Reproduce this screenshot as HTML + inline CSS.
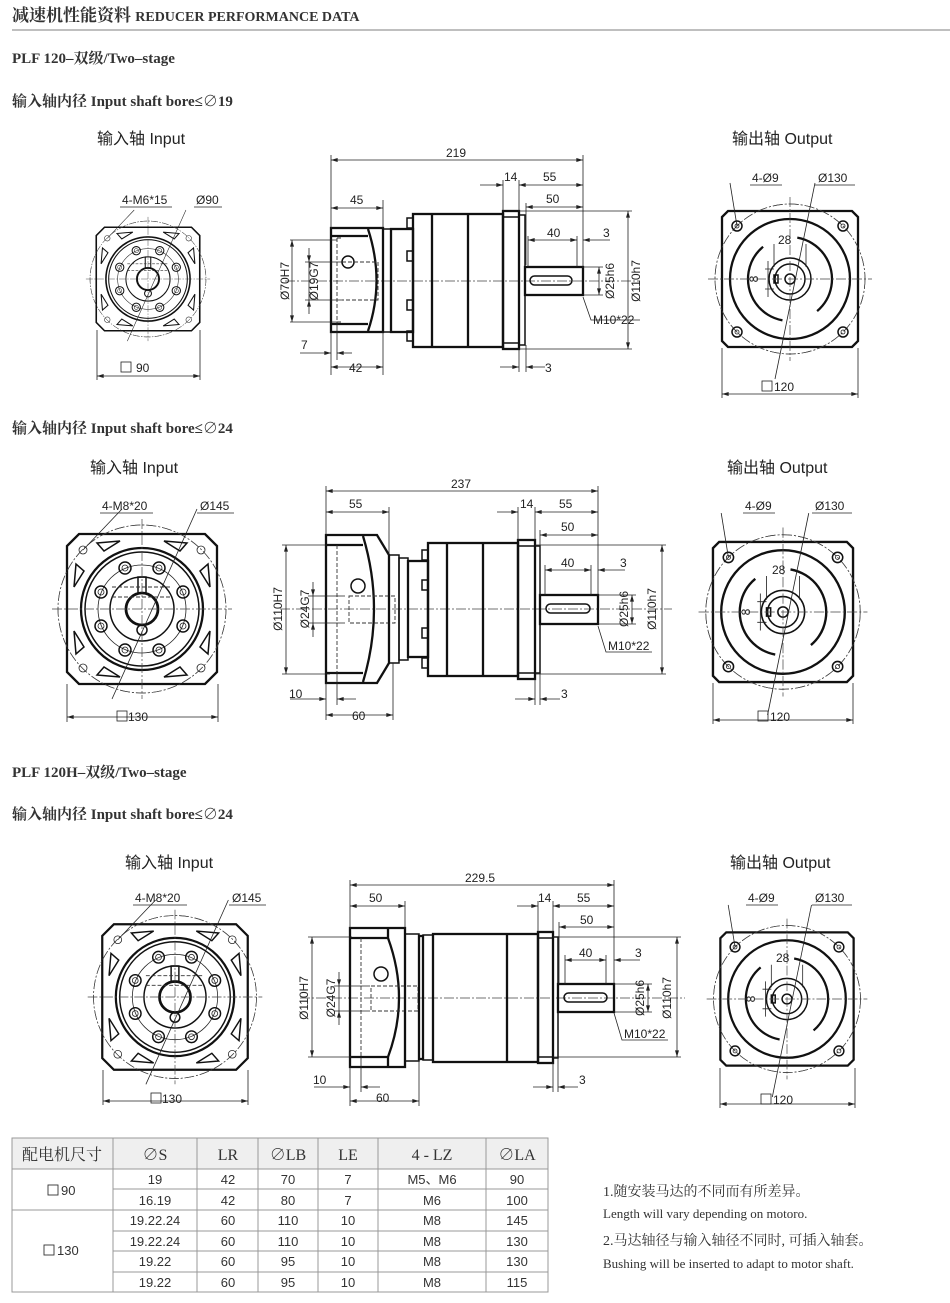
<!DOCTYPE html>
<html><head><meta charset="utf-8"><style>
html,body{margin:0;padding:0;background:#fff}
svg{display:block}
.t{font-family:"Liberation Sans","Noto Sans CJK SC",sans-serif;font-size:12px;fill:#222}
.h{font-family:"Liberation Serif","Noto Serif CJK SC",serif;fill:#333}
.lb{font-family:"Liberation Sans","Noto Sans CJK SC",sans-serif;font-size:16px;fill:#222}
.d{stroke:#222;stroke-width:.8;fill:none}
.da{stroke:#222;stroke-width:.8;fill:none;marker-start:url(#ar);marker-end:url(#ar)}
.de{stroke:#222;stroke-width:.8;fill:none;marker-end:url(#ar)}
.k{stroke:#111;stroke-width:2.3;fill:none}
.m{stroke:#111;stroke-width:1.5;fill:none}
.cl{stroke:#444;stroke-width:.7;fill:none;stroke-dasharray:10 2 2 2}
.ds{stroke:#333;stroke-width:.9;fill:none;stroke-dasharray:4 2}
</style></head><body>
<svg width="950" height="1303" viewBox="0 0 950 1303" xmlns="http://www.w3.org/2000/svg">
<defs>
<marker id="ar" viewBox="0 0 10 6" refX="10" refY="3" markerWidth="7" markerHeight="4" orient="auto-start-reverse" markerUnits="userSpaceOnUse"><path d="M0,0L10,3L0,6Z" fill="#222"/></marker>
<g id="outv">
<circle r="75" class="cl"/>
<path d="M-62,-68H62L68,-62V62L62,68H-62L-68,62V-62Z" class="k" fill="#fff"/>
<circle r="75" class="cl"/>
<circle r="60" class="k"/>
<circle r="42" class="k" stroke-dasharray="95 37" transform="rotate(-80)"/>
<circle r="21" class="m"/><circle r="15" class="m"/><circle r="5" class="m"/>
<g class="m"><circle cx="-53" cy="-53" r="5"/><circle cx="53" cy="-53" r="5"/><circle cx="-53" cy="53" r="5"/><circle cx="53" cy="53" r="5"/></g>
<g class="d"><circle cx="-53" cy="-53" r="2"/><circle cx="53" cy="-53" r="2"/><circle cx="-53" cy="53" r="2"/><circle cx="53" cy="53" r="2"/></g>
<rect x="-16" y="-4" width="4" height="8" class="m"/>
<line x1="-82" y1="0" x2="82" y2="0" class="cl"/><line x1="0" y1="-82" x2="0" y2="82" class="cl"/>
<path d="M-16,-35V-12M16,-35V-12" class="d"/>
<path d="M-25,-10H-16M-25,10H-16M-22,-18V18" class="d"/>
<line x1="-60" y1="-96" x2="-53" y2="-53" class="d"/>
<line x1="25" y1="-96" x2="-15" y2="100" class="d"/>
</g>
<g id="inv">
<circle r="84" class="cl"/>
<path d="M-63,-75H63L75,-63V63L63,75H-63L-75,63V-63Z" class="k" fill="#fff"/>
<circle r="84" class="cl"/>
<circle r="61" class="k"/><circle r="57" class="m"/><circle r="44" class="d"/><circle r="32" class="m"/>
<circle r="16" stroke="#111" stroke-width="2.8" fill="none"/>
<circle cx="0" cy="21" r="5" class="m"/>
<rect x="-4" y="-32" width="8" height="16" class="m"/>
<g class="m">
<circle cx="17" cy="-41" r="6"/><circle cx="41" cy="-17" r="6"/><circle cx="41" cy="17" r="6"/><circle cx="17" cy="41" r="6"/>
<circle cx="-17" cy="-41" r="6"/><circle cx="-41" cy="-17" r="6"/><circle cx="-41" cy="17" r="6"/><circle cx="-17" cy="41" r="6"/>
</g>
<g class="d">
<circle cx="17" cy="-41" r="3"/><circle cx="41" cy="-17" r="3"/><circle cx="41" cy="17" r="3"/><circle cx="17" cy="41" r="3"/>
<circle cx="-17" cy="-41" r="3"/><circle cx="-41" cy="-17" r="3"/><circle cx="-41" cy="17" r="3"/><circle cx="-17" cy="41" r="3"/>
<circle cx="-59" cy="-59" r="4"/><circle cx="59" cy="-59" r="4"/><circle cx="-59" cy="59" r="4"/><circle cx="59" cy="59" r="4"/>
</g>
<g class="m">
<path d="M-45,-66L-22,-68L-38,-58Z"/><path d="M45,-66L22,-68L38,-58Z"/>
<path d="M-45,66L-22,68L-38,58Z"/><path d="M45,66L22,68L38,58Z"/>
<path d="M-66,-45L-68,-22L-58,-38Z"/><path d="M66,-45L68,-22L58,-38Z"/>
<path d="M-66,45L-68,22L-58,38Z"/><path d="M66,45L68,22L58,38Z"/>
</g>
<line x1="-90" y1="0" x2="90" y2="0" class="cl"/><line x1="0" y1="-90" x2="0" y2="90" class="cl"/>
<path d="M-30,-22H30M-30,-12H30" class="ds"/>
<line x1="-20" y1="-100" x2="-59" y2="-59" class="d"/>
<line x1="55" y1="-100" x2="-30" y2="90" class="d"/>
</g>
</defs>

<!-- Headers -->
<text x="12" y="21" class="h" font-size="17" font-weight="bold">减速机性能资料 <tspan font-size="14">REDUCER PERFORMANCE DATA</tspan></text>
<line x1="12" y1="30" x2="950" y2="30" stroke="#aaa" stroke-width="1.4"/>
<text x="12" y="63" class="h" font-size="15" font-weight="bold">PLF 120–双级/Two–stage</text>
<text x="12" y="106" class="h" font-size="15" font-weight="bold">输入轴内径 Input shaft bore≤∅19</text>
<text x="97" y="144" class="lb">输入轴  Input</text>
<text x="732" y="144" class="lb">输出轴  Output</text>

<!-- ROW 1 input -->
<use href="#inv" transform="translate(148,279) scale(.69)"/>
<text x="122" y="204" class="t">4-M6*15</text><line x1="120" y1="207" x2="172" y2="207" class="d"/>
<text x="196" y="204" class="t">Ø90</text><line x1="194" y1="207" x2="222" y2="207" class="d"/>
<path d="M97,330V380M200,330V380" class="d"/>
<line x1="97" y1="376" x2="200" y2="376" class="da"/>
<rect x="121" y="362" width="10" height="10" class="d" stroke-width=".9"/><text x="136" y="372" class="t">90</text>

<!-- ROW 1 side -->
<g>
<line x1="285" y1="281" x2="640" y2="281" class="cl"/>
<rect x="331" y="228" width="52" height="104" class="k"/>
<path d="M331,236H368M331,324H368M368,229Q385,281 368,331" class="k"/>
<circle cx="348" cy="262" r="6" class="m"/>
<path d="M337,238V322M337,238H343M337,322H343" class="ds"/>
<path d="M342,262H378V300H342" class="ds"/>
<rect x="383" y="229" width="8" height="103" class="m"/>
<rect x="391" y="229" width="22" height="103" class="k"/>
<g class="m"><rect x="407" y="218" width="6" height="10"/><rect x="407" y="251" width="6" height="10"/><rect x="407" y="300" width="6" height="10"/><rect x="407" y="331" width="6" height="10"/></g>
<rect x="413" y="214" width="90" height="133" class="k"/>
<path d="M432,214V347M468,214V347" class="k"/>
<rect x="503" y="211" width="16" height="138" class="k"/>
<path d="M503,217H519M503,343H519" class="m"/>
<rect x="519" y="215" width="6" height="130" class="m"/>
<rect x="525" y="267" width="58" height="28" class="k"/>
<rect x="530" y="276" width="42" height="9" rx="4.5" class="m"/>
<path d="M331,155V228M583,155V268M383,200V228M503,180V211M519,180V211M526,203V265M528,236V267M577,236V267" class="d"/>
<line x1="331" y1="160" x2="583" y2="160" class="da"/><text x="446" y="157" class="t">219</text>
<line x1="480" y1="185" x2="503" y2="185" class="de"/><line x1="519" y1="185" x2="583" y2="185" class="da"/>
<text x="504" y="181" class="t">14</text><text x="543" y="181" class="t">55</text>
<line x1="526" y1="207" x2="583" y2="207" class="da"/><text x="546" y="203" class="t">50</text>
<line x1="331" y1="208" x2="383" y2="208" class="da"/><text x="350" y="204" class="t">45</text>
<line x1="528" y1="240" x2="577" y2="240" class="da"/><text x="547" y="237" class="t">40</text>
<line x1="610" y1="240" x2="583" y2="240" class="de"/><text x="603" y="237" class="t">3</text>
<path d="M519,211H632M519,349H632M583,267H603M583,295H603" class="d"/>
<line x1="628" y1="211" x2="628" y2="349" class="da"/>
<text transform="translate(640,281) rotate(-90)" class="t" text-anchor="middle">Ø110h7</text>
<line x1="599" y1="267" x2="599" y2="295" class="da"/>
<text transform="translate(614,281) rotate(-90)" class="t" text-anchor="middle">Ø25h6</text>
<path d="M583,297L591,320H640" class="d"/><text x="593" y="324" class="t">M10*22</text>
<path d="M290,240H337M290,322H337M305,262H342M305,300H342" class="d"/>
<line x1="292" y1="240" x2="292" y2="322" class="da"/>
<text transform="translate(289,281) rotate(-90)" class="t" text-anchor="middle">Ø70H7</text>
<line x1="309" y1="248" x2="309" y2="262" class="de"/><line x1="309" y1="314" x2="309" y2="300" class="de"/><line x1="309" y1="262" x2="309" y2="300" class="d"/>
<text transform="translate(318,281) rotate(-90)" class="t" text-anchor="middle">Ø19G7</text>
<path d="M331,332V375M337,322V360M383,332V375M519,349V372M526,345V372" class="d"/>
<line x1="300" y1="353" x2="331" y2="353" class="de"/><line x1="352" y1="353" x2="337" y2="353" class="de"/><text x="301" y="349" class="t">7</text>
<line x1="331" y1="367" x2="383" y2="367" class="da"/><text x="349" y="372" class="t">42</text>
<line x1="500" y1="367" x2="519" y2="367" class="de"/><line x1="545" y1="367" x2="526" y2="367" class="de"/><text x="545" y="372" class="t">3</text>
</g>

<!-- ROW 1 output -->
<use href="#outv" transform="translate(790,279)"/>
<text x="752" y="182" class="t">4-Ø9</text><line x1="750" y1="185" x2="782" y2="185" class="d"/>
<text x="818" y="182" class="t">Ø130</text><line x1="815" y1="185" x2="855" y2="185" class="d"/>
<text x="778" y="244" class="t">28</text>
<text transform="translate(758,279) rotate(-90)" class="t" text-anchor="middle" font-size="10">8</text>
<path d="M722,348V398M858,348V398" class="d"/>
<line x1="722" y1="394" x2="858" y2="394" class="da"/>
<rect x="762" y="381" width="10" height="10" class="d" stroke-width=".9"/><text x="774" y="391" class="t">120</text>

<!-- ROW 2 -->
<text x="12" y="433" class="h" font-size="15" font-weight="bold">输入轴内径 Input shaft bore≤∅24</text>
<text x="90" y="473" class="lb">输入轴  Input</text>
<text x="727" y="473" class="lb">输出轴  Output</text>

<use href="#inv" transform="translate(142,609)"/>
<text x="102" y="510" class="t">4-M8*20</text><line x1="100" y1="513" x2="153" y2="513" class="d"/>
<text x="200" y="510" class="t">Ø145</text><line x1="197" y1="513" x2="234" y2="513" class="d"/>
<path d="M67,684V722M218,684V722" class="d"/>
<line x1="67" y1="717" x2="218" y2="717" class="da"/>
<rect x="117" y="711" width="10" height="10" class="d" stroke-width=".9"/><text x="128" y="721" class="t">130</text>

<g>
<line x1="280" y1="609" x2="672" y2="609" class="cl"/>
<path d="M326,535H377L389,555V663L377,683H326Z" class="k"/>
<path d="M326,545H363M326,673H363M363,536Q385,609 363,682" class="k"/>
<circle cx="358" cy="586" r="7" class="m"/>
<path d="M337,545V673" class="ds"/>
<path d="M349,596H395V623H349Z" class="ds"/>
<rect x="389" y="555" width="10" height="108" class="m"/>
<rect x="399" y="558" width="9" height="102" class="m"/>
<rect x="408" y="561" width="20" height="96" class="k"/>
<g class="m"><rect x="422" y="550" width="6" height="10"/><rect x="422" y="580" width="6" height="10"/><rect x="422" y="628" width="6" height="10"/><rect x="422" y="658" width="6" height="10"/></g>
<rect x="428" y="543" width="90" height="133" class="k"/>
<path d="M447,543V676M483,543V676" class="k"/>
<rect x="518" y="540" width="17" height="139" class="k"/>
<path d="M518,546H535M518,673H535" class="m"/>
<rect x="535" y="546" width="5" height="127" class="m"/>
<rect x="540" y="595" width="58" height="29" class="k"/>
<rect x="546" y="604" width="44" height="9" rx="4.5" class="m"/>
<path d="M326,486V535M598,486V595M389,507V555M518,507V540M535,507V540M540,530V595M545,565V595M591,565V595" class="d"/>
<line x1="326" y1="491" x2="598" y2="491" class="da"/><text x="451" y="488" class="t">237</text>
<line x1="326" y1="512" x2="389" y2="512" class="da"/><text x="349" y="508" class="t">55</text>
<line x1="497" y1="512" x2="518" y2="512" class="de"/><line x1="535" y1="512" x2="598" y2="512" class="da"/>
<text x="520" y="508" class="t">14</text><text x="559" y="508" class="t">55</text>
<line x1="540" y1="535" x2="598" y2="535" class="da"/><text x="561" y="531" class="t">50</text>
<line x1="545" y1="570" x2="591" y2="570" class="da"/><text x="561" y="567" class="t">40</text>
<line x1="625" y1="570" x2="598" y2="570" class="de"/><text x="620" y="567" class="t">3</text>
<path d="M535,545H666M535,674H666M598,595H636M598,624H636" class="d"/>
<line x1="662" y1="545" x2="662" y2="674" class="da"/>
<text transform="translate(656,609) rotate(-90)" class="t" text-anchor="middle">Ø110h7</text>
<line x1="632" y1="595" x2="632" y2="624" class="da"/>
<text transform="translate(628,609) rotate(-90)" class="t" text-anchor="middle">Ø25h6</text>
<path d="M598,626L606,652H652" class="d"/><text x="608" y="650" class="t">M10*22</text>
<path d="M282,545H330M282,674H330M308,596H345M308,623H345" class="d"/>
<line x1="286" y1="545" x2="286" y2="674" class="da"/>
<text transform="translate(282,609) rotate(-90)" class="t" text-anchor="middle">Ø110H7</text>
<line x1="313" y1="582" x2="313" y2="596" class="de"/><line x1="313" y1="637" x2="313" y2="623" class="de"/><line x1="313" y1="596" x2="313" y2="623" class="d"/>
<text transform="translate(309,609) rotate(-90)" class="t" text-anchor="middle">Ø24G7</text>
<path d="M326,683V720M337,673V705M393,663V720M535,679V705M540,673V705" class="d"/>
<line x1="290" y1="699" x2="326" y2="699" class="de"/><line x1="356" y1="699" x2="337" y2="699" class="de"/><text x="289" y="698" class="t">10</text>
<line x1="326" y1="715" x2="393" y2="715" class="da"/><text x="352" y="720" class="t">60</text>
<line x1="515" y1="699" x2="535" y2="699" class="de"/><line x1="560" y1="699" x2="540" y2="699" class="de"/><text x="561" y="698" class="t">3</text>
</g>

<use href="#outv" transform="translate(783,612) scale(1.03)"/>
<text x="745" y="510" class="t">4-Ø9</text><line x1="743" y1="513" x2="775" y2="513" class="d"/>
<text x="815" y="510" class="t">Ø130</text><line x1="812" y1="513" x2="852" y2="513" class="d"/>
<text x="772" y="574" class="t">28</text>
<text transform="translate(750,612) rotate(-90)" class="t" text-anchor="middle" font-size="10">8</text>
<path d="M713,683V724M853,683V724" class="d"/>
<line x1="713" y1="720" x2="853" y2="720" class="da"/>
<rect x="758" y="711" width="10" height="10" class="d" stroke-width=".9"/><text x="770" y="721" class="t">120</text>

<!-- ROW 3 -->
<text x="12" y="777" class="h" font-size="15" font-weight="bold">PLF 120H–双级/Two–stage</text>
<text x="12" y="819" class="h" font-size="15" font-weight="bold">输入轴内径 Input shaft bore≤∅24</text>
<text x="125" y="868" class="lb">输入轴  Input</text>
<text x="730" y="868" class="lb">输出轴  Output</text>

<use href="#inv" transform="translate(175,997) scale(.97)"/>
<text x="135" y="902" class="t">4-M8*20</text><line x1="133" y1="905" x2="187" y2="905" class="d"/>
<text x="232" y="902" class="t">Ø145</text><line x1="229" y1="905" x2="266" y2="905" class="d"/>
<path d="M103,1070V1105M248,1070V1105" class="d"/>
<line x1="103" y1="1101" x2="248" y2="1101" class="da"/>
<rect x="151" y="1093" width="10" height="10" class="d" stroke-width=".9"/><text x="162" y="1103" class="t">130</text>

<g>
<line x1="300" y1="998" x2="685" y2="998" class="cl"/>
<path d="M350,928H405V1067H350Z" class="k"/>
<path d="M350,938H388M350,1057H388M388,928V938M388,1057V1067M388,938Q410,998 388,1057" class="k"/>
<circle cx="381" cy="974" r="7" class="m"/>
<path d="M361,938V1057" class="ds"/>
<path d="M371,986H418V1011H371Z" class="ds"/>
<rect x="405" y="934" width="14" height="127" class="m"/>
<rect x="419" y="936" width="4" height="123" class="k"/>
<rect x="423" y="935" width="10" height="125" class="m"/>
<rect x="433" y="934" width="105" height="128" class="k"/>
<path d="M507,934V1062" class="k"/>
<rect x="538" y="932" width="15" height="131" class="k"/>
<path d="M538,938H553M538,1057H553" class="m"/>
<rect x="553" y="937" width="5" height="121" class="m"/>
<rect x="558" y="984" width="56" height="28" class="k"/>
<rect x="564" y="993" width="43" height="9" rx="4.5" class="m"/>
<path d="M350,880V928M614,880V984M405,901V928M538,901V932M553,901V932M559,922V984M565,955V984M606,955V984" class="d"/>
<line x1="350" y1="885" x2="614" y2="885" class="da"/><text x="465" y="882" class="t">229.5</text>
<line x1="350" y1="906" x2="405" y2="906" class="da"/><text x="369" y="902" class="t">50</text>
<line x1="517" y1="906" x2="538" y2="906" class="de"/><line x1="553" y1="906" x2="614" y2="906" class="da"/>
<text x="538" y="902" class="t">14</text><text x="577" y="902" class="t">55</text>
<line x1="559" y1="927" x2="614" y2="927" class="da"/><text x="580" y="924" class="t">50</text>
<line x1="565" y1="960" x2="606" y2="960" class="da"/><text x="579" y="957" class="t">40</text>
<line x1="640" y1="960" x2="614" y2="960" class="de"/><text x="635" y="957" class="t">3</text>
<path d="M553,937H681M553,1057H681M614,984H652M614,1012H652" class="d"/>
<line x1="677" y1="937" x2="677" y2="1057" class="da"/>
<text transform="translate(671,998) rotate(-90)" class="t" text-anchor="middle">Ø110h7</text>
<line x1="648" y1="984" x2="648" y2="1012" class="da"/>
<text transform="translate(644,998) rotate(-90)" class="t" text-anchor="middle">Ø25h6</text>
<path d="M614,1013L622,1040H668" class="d"/><text x="624" y="1038" class="t">M10*22</text>
<path d="M308,937H352M308,1057H352M334,986H370M334,1011H370" class="d"/>
<line x1="312" y1="937" x2="312" y2="1057" class="da"/>
<text transform="translate(308,998) rotate(-90)" class="t" text-anchor="middle">Ø110H7</text>
<line x1="339" y1="972" x2="339" y2="986" class="de"/><line x1="339" y1="1025" x2="339" y2="1011" class="de"/><line x1="339" y1="986" x2="339" y2="1011" class="d"/>
<text transform="translate(335,998) rotate(-90)" class="t" text-anchor="middle">Ø24G7</text>
<path d="M350,1067V1106M361,1057V1092M419,1061V1106M553,1063V1092M558,1058V1092" class="d"/>
<line x1="314" y1="1087" x2="350" y2="1087" class="de"/><line x1="380" y1="1087" x2="361" y2="1087" class="de"/><text x="313" y="1084" class="t">10</text>
<line x1="350" y1="1101" x2="419" y2="1101" class="da"/><text x="376" y="1102" class="t">60</text>
<line x1="533" y1="1087" x2="553" y2="1087" class="de"/><line x1="578" y1="1087" x2="558" y2="1087" class="de"/><text x="579" y="1084" class="t">3</text>
</g>

<use href="#outv" transform="translate(787,999) scale(.98)"/>
<text x="748" y="902" class="t">4-Ø9</text><line x1="746" y1="905" x2="778" y2="905" class="d"/>
<text x="815" y="902" class="t">Ø130</text><line x1="812" y1="905" x2="852" y2="905" class="d"/>
<text x="776" y="962" class="t">28</text>
<text transform="translate(755,999) rotate(-90)" class="t" text-anchor="middle" font-size="10">8</text>
<path d="M720,1068V1108M855,1068V1108" class="d"/>
<line x1="720" y1="1104" x2="855" y2="1104" class="da"/>
<rect x="761" y="1094" width="10" height="10" class="d" stroke-width=".9"/><text x="773" y="1104" class="t">120</text>

<!-- TABLE -->
<g font-family="Liberation Sans, sans-serif">
<rect x="12" y="1138" width="536" height="31" fill="#efefef"/>
<g stroke="#999" stroke-width="1" fill="none">
<rect x="12" y="1138" width="536" height="154"/>
<line x1="12" y1="1169" x2="548" y2="1169"/>
<line x1="12" y1="1210" x2="548" y2="1210"/>
<line x1="113" y1="1189" x2="548" y2="1189"/>
<line x1="113" y1="1231" x2="548" y2="1231"/>
<line x1="113" y1="1251" x2="548" y2="1251"/>
<line x1="113" y1="1272" x2="548" y2="1272"/>
<line x1="113" y1="1138" x2="113" y2="1292"/><line x1="197" y1="1138" x2="197" y2="1292"/>
<line x1="258" y1="1138" x2="258" y2="1292"/><line x1="318" y1="1138" x2="318" y2="1292"/>
<line x1="378" y1="1138" x2="378" y2="1292"/><line x1="486" y1="1138" x2="486" y2="1292"/>
</g>
<g class="h" font-size="16" text-anchor="middle">
<text x="62" y="1160">配电机尺寸</text><text x="155" y="1160">∅S</text><text x="228" y="1160">LR</text>
<text x="288" y="1160">∅LB</text><text x="348" y="1160">LE</text><text x="432" y="1160">4 - LZ</text><text x="517" y="1160">∅LA</text>
</g>
<g font-size="13" fill="#333" text-anchor="middle" font-family="Liberation Sans, 'Noto Sans CJK SC', sans-serif">
<text x="155" y="1184">19</text><text x="228" y="1184">42</text><text x="288" y="1184">70</text><text x="348" y="1184">7</text><text x="432" y="1184">M5、M6</text><text x="517" y="1184">90</text>
<text x="155" y="1205">16.19</text><text x="228" y="1205">42</text><text x="288" y="1205">80</text><text x="348" y="1205">7</text><text x="432" y="1205">M6</text><text x="517" y="1205">100</text>
<text x="155" y="1225">19.22.24</text><text x="228" y="1225">60</text><text x="288" y="1225">110</text><text x="348" y="1225">10</text><text x="432" y="1225">M8</text><text x="517" y="1225">145</text>
<text x="155" y="1246">19.22.24</text><text x="228" y="1246">60</text><text x="288" y="1246">110</text><text x="348" y="1246">10</text><text x="432" y="1246">M8</text><text x="517" y="1246">130</text>
<text x="155" y="1266">19.22</text><text x="228" y="1266">60</text><text x="288" y="1266">95</text><text x="348" y="1266">10</text><text x="432" y="1266">M8</text><text x="517" y="1266">130</text>
<text x="155" y="1287">19.22</text><text x="228" y="1287">60</text><text x="288" y="1287">95</text><text x="348" y="1287">10</text><text x="432" y="1287">M8</text><text x="517" y="1287">115</text>
</g>
<rect x="48" y="1185" width="10" height="10" fill="none" stroke="#333" stroke-width=".9"/><text x="61" y="1195" font-size="13" fill="#333">90</text>
<rect x="44" y="1245" width="10" height="10" fill="none" stroke="#333" stroke-width=".9"/><text x="57" y="1255" font-size="13" fill="#333">130</text>
</g>

<text x="603" y="1196" class="h" font-size="14">1.随安装马达的不同而有所差异。</text>
<text x="603" y="1218" class="h" font-size="13">Length will vary depending on motoro.</text>
<text x="603" y="1245" class="h" font-size="14">2.马达轴径与输入轴径不同时, 可插入轴套。</text>
<text x="603" y="1268" class="h" font-size="13">Bushing will be inserted to adapt to motor shaft.</text>
</svg>
</body></html>
